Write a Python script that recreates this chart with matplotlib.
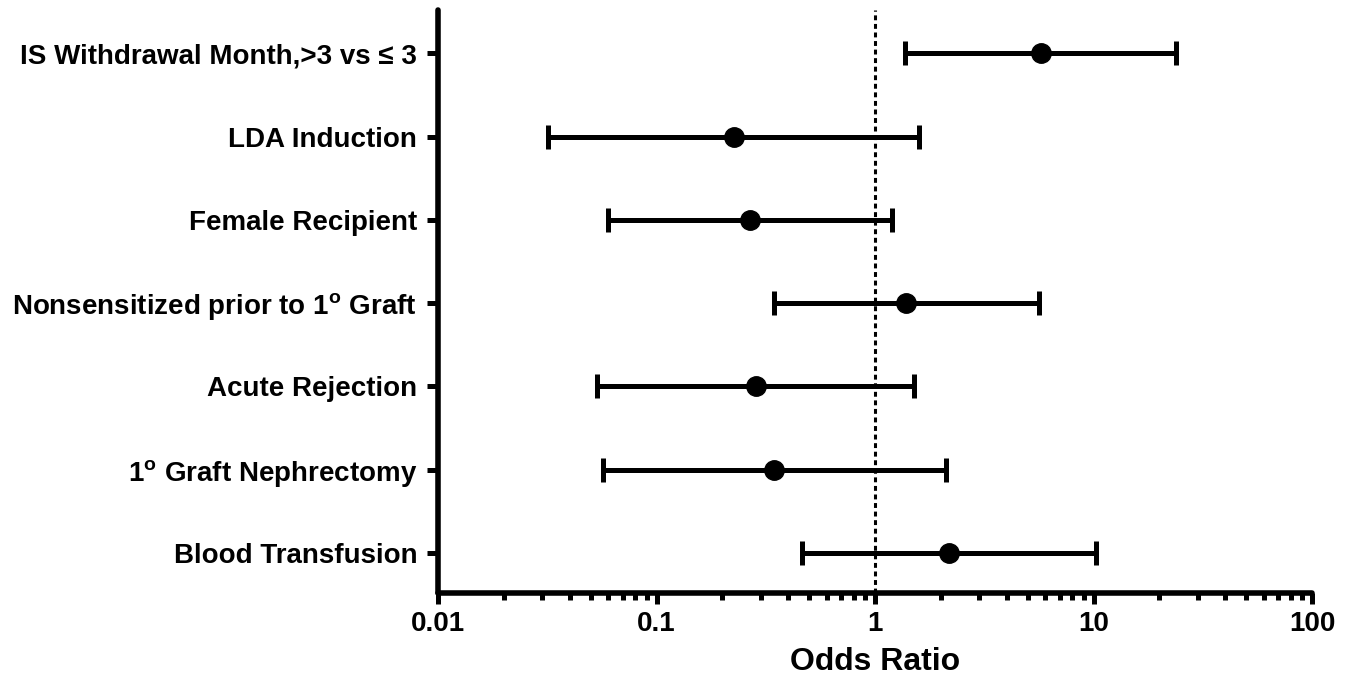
import matplotlib
matplotlib.use("Agg")
import matplotlib.pyplot as plt
from matplotlib.ticker import LogLocator, NullFormatter, FixedLocator, FixedFormatter

plt.rcParams['font.family'] = ['Liberation Sans', 'DejaVu Sans']
plt.rcParams['font.weight'] = 'bold'
plt.rcParams['mathtext.fontset'] = 'custom'
plt.rcParams['mathtext.rm'] = 'Liberation Sans:bold'
plt.rcParams['mathtext.bf'] = 'Liberation Sans:bold'

categories = [
    "IS Withdrawal Month,>3 vs \u2264 3",
    "LDA Induction",
    "Female Recipient",
    r"Nonsensitized prior to 1$^{\mathbf{o}}$ Graft",
    "Acute Rejection",
    r"1$^{\mathbf{o}}$ Graft Nephrectomy",
    "Blood Transfusion",
]
odds_ratio = [5.75, 0.226, 0.268, 1.39, 0.285, 0.345, 2.18]
ci_low = [1.37, 0.0319, 0.060, 0.345, 0.0534, 0.0569, 0.463]
ci_high = [23.9, 1.59, 1.20, 5.63, 1.51, 2.11, 10.3]
x_ticks = [0.01, 0.1, 1, 10, 100]
x_tick_labels = ["0.01", "0.1", "1", "10", "100"]

fig = plt.figure(figsize=(13.51, 6.83), dpi=100)
ax = fig.add_axes([438/1351, 1-593/683, (1312-438)/1351, (593-10)/683])

n = len(categories)
ypos = [n - 1 - i for i in range(n)]
xerr = [[o - l for o, l in zip(odds_ratio, ci_low)],
        [h - o for o, h in zip(odds_ratio, ci_high)]]

ax.axvline(1, color='black', linestyle=(0, (1.6, 1.2)), linewidth=2.2,
           dash_capstyle='butt', zorder=1)
eb = ax.errorbar(odds_ratio, ypos, xerr=xerr, fmt='o', color='black', ecolor='black',
                 elinewidth=3.6, capsize=8.5, capthick=3.6, markersize=14, zorder=3)
for cap in eb[1]:
    cap.set_solid_capstyle('round')

ax.set_xscale('log')
ax.set_xlim(0.01, 100)
ax.set_ylim(-0.48, 6.52)

ax.xaxis.set_major_locator(FixedLocator(x_ticks))
ax.xaxis.set_major_formatter(FixedFormatter(x_tick_labels))
ax.xaxis.set_minor_locator(LogLocator(base=10, subs=range(2, 10), numticks=20))
ax.xaxis.set_minor_formatter(NullFormatter())

ax.set_yticks(ypos)
ax.set_yticklabels(categories)

for s in ['top', 'right']:
    ax.spines[s].set_visible(False)
for s in ['left', 'bottom']:
    ax.spines[s].set_linewidth(4)
    ax.spines[s].set_capstyle('round')

ax.tick_params(axis='x', which='major', length=8, width=3.6, labelsize=20, pad=5)
ax.tick_params(axis='x', which='minor', length=5, width=3.6)
ax.tick_params(axis='y', which='major', length=8, width=3.6, labelsize=20, pad=7)
for lab in ax.get_xticklabels() + ax.get_yticklabels():
    lab.set_fontweight('bold')

ax.set_xlabel("Odds Ratio", fontsize=23, fontweight='bold', labelpad=7)

fig.savefig("out.png", dpi=100)
